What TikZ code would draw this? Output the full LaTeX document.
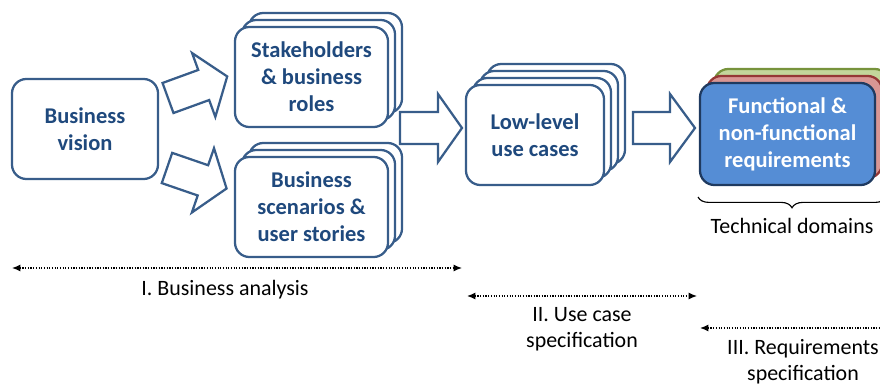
\documentclass[tikz,border=0pt]{standalone}
\usepackage{fontspec}
\setmainfont{Carlito}
\usepackage{tikz}
\usetikzlibrary{calc,arrows.meta,decorations.pathreplacing}
\usepackage{xcolor}
\definecolor{cardline}{RGB}{56,93,138}
\definecolor{cardtext}{RGB}{31,73,125}
\definecolor{reqfill}{RGB}{85,141,213}
\definecolor{reqline}{RGB}{31,58,96}
\definecolor{redfill}{RGB}{217,150,148}
\definecolor{redline}{RGB}{149,55,53}
\definecolor{greenfill}{RGB}{195,214,155}
\definecolor{greenline}{RGB}{119,147,60}

\tikzset{
  card/.style={draw=cardline, line width=1.6pt, fill=white, rounded corners=0.36cm,
    minimum width=3.8cm, minimum height=2.5cm, inner sep=0pt, align=center,
    font=\fontsize{16}{19.2}\selectfont\bfseries, text=cardtext},
  bigarrow/.style={draw=cardline, line width=1.6pt, fill=white, line join=miter},
  phase/.style={densely dotted, line width=0.9pt, {Latex[length=6pt,width=5pt]}-{Latex[length=6pt,width=5pt]}},
  phaselabel/.style={align=center, font=\fontsize{15.6}{18.5}\selectfont}
}

\begin{document}
\begin{tikzpicture}[x=0.025cm, y=-0.025cm]
\useasboundingbox (0,0) rectangle (880,385);

% business vision
\node [card, minimum width=3.65cm] (vision) at (85,129) {Business\\vision};

% stakeholder stack
\foreach \k in {2,1} \node [card, minimum width=3.825cm] at ($(311.5,77)+(7*\k,-7*\k)$) {};
\node [card, minimum width=3.825cm] (stake) at (311.5,77) {Stakeholders\\\& business\\roles};

% scenario stack
\foreach \k in {2,1} \node [card, minimum width=3.825cm] at ($(311.5,207)+(7*\k,-7*\k)$) {};
\node [card, minimum width=3.825cm] (scen) at (311.5,207) {Business\\scenarios \&\\user stories};

% low-level use case stack
\foreach \k in {3,2,1} \node [card, minimum width=3.45cm] at ($(535,135)+(7*\k,-7*\k)$) {};
\node [card, minimum width=3.45cm] (usecase) at (535,135) {Low-level\\use cases};

% requirements, one card per domain
\node [card, minimum width=4.375cm, minimum height=2.55cm, draw=greenline, fill=greenfill] at ($(787.5,134)+(14,-14)$) {};
\node [card, minimum width=4.375cm, minimum height=2.55cm, draw=redline, fill=redfill] at ($(787.5,134)+(7,-7)$) {};
\node [card, minimum width=4.375cm, minimum height=2.55cm, draw=reqline, fill=reqfill, text=white] (req) at (787.5,134) {Functional \&\\non-functional\\requirements};

% block arrows
\begin{scope}[shift={(168,98)}, rotate=20]
\filldraw [bigarrow] (0,-16) -- (38,-16) -- (38,-34) -- (63,0) -- (38,34) -- (38,16) -- (0,16) -- cycle;
\end{scope}
\begin{scope}[shift={(167,168)}, rotate=-19]
\filldraw [bigarrow] (0,-16) -- (38,-16) -- (38,-34) -- (63,0) -- (38,34) -- (38,16) -- (0,16) -- cycle;
\end{scope}
\begin{scope}[shift={(400,128)}]
\filldraw [bigarrow] (0,-16) -- (38,-16) -- (38,-34) -- (62,0) -- (38,34) -- (38,16) -- (0,16) -- cycle;
\end{scope}
\begin{scope}[shift={(633,128)}]
\filldraw [bigarrow] (0,-16) -- (37,-16) -- (37,-34) -- (62,0) -- (37,34) -- (37,16) -- (0,16) -- cycle;
\end{scope}

% technical domains brace
\draw [line width=0.8pt, decorate, decoration={brace, mirror, amplitude=0.27cm}] (698,197) -- (886,197);
\node [phaselabel] (domains) at (792,226) {Technical domains};

% phases
\coordinate (p1a) at (12,268);
\coordinate (p1b) at (462,268);
\coordinate (p2a) at (467,296);
\coordinate (p2b) at (697,296);
\coordinate (p3a) at (700,328);
\coordinate (p3b) at (895,328);
\draw [phase] (p1a) -- (p1b);
\draw [phase] (p2a) -- (p2b);
\draw [phase] (p3a) -- (p3b);
\node [phaselabel] (phase1) at (225,290) {I. Business analysis};
\node [phaselabel] (phase2) at (582,329) {II. Use case\\specification};
\node [phaselabel] (phase3) at (803,362) {III. Requirements\\specification};
\end{tikzpicture}
\end{document}
